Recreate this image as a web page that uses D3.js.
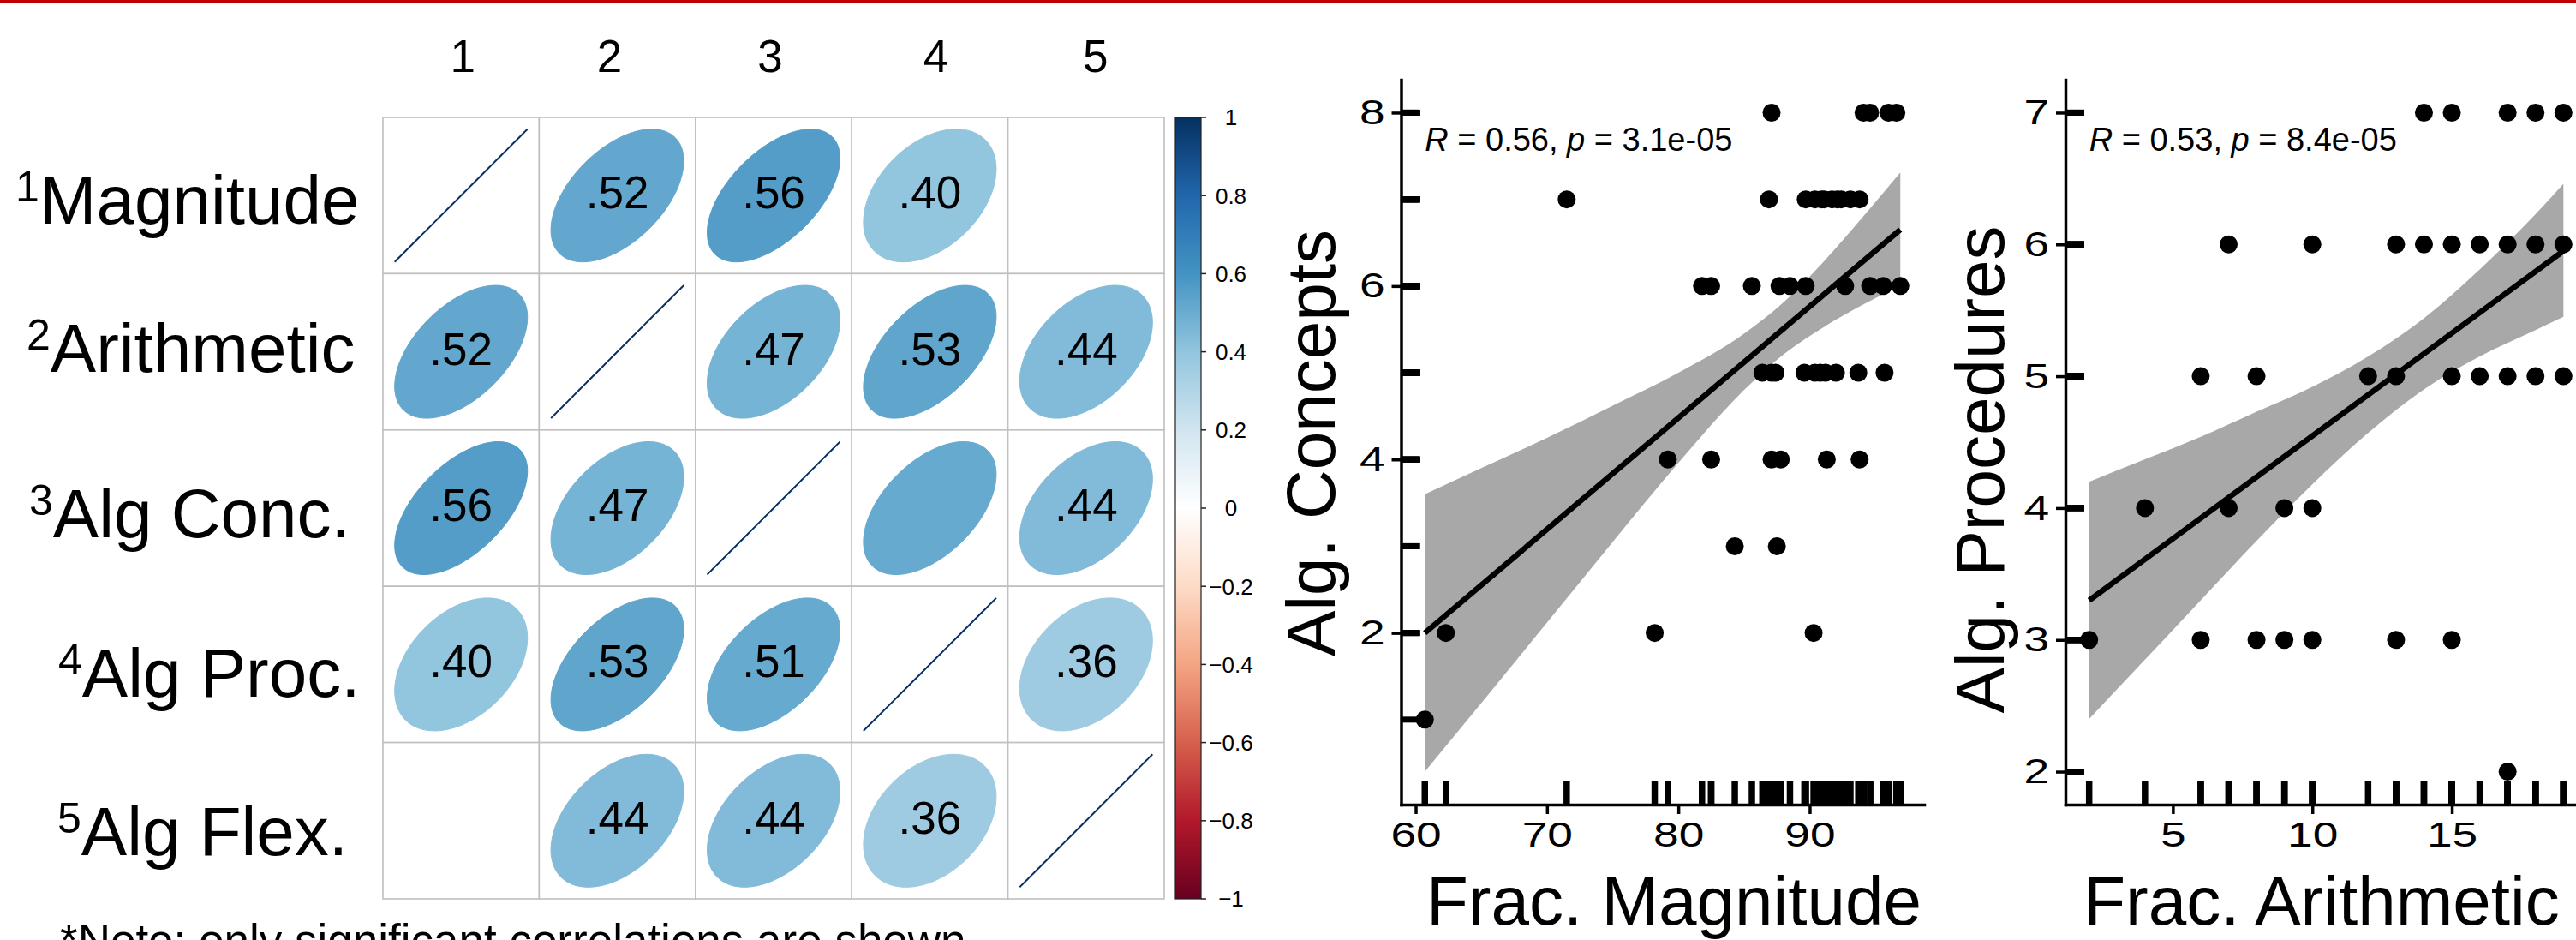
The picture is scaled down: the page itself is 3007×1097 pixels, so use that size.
<!DOCTYPE html>
<html lang="en">
<head>
<meta charset="UTF-8">
<title>Correlations and scatter plots</title>
<style>
  html, body { margin: 0; padding: 0; background: #fff; }
  svg { display: block; }
  text { font-family: "Liberation Sans", Arial, Helvetica, sans-serif; fill: #000; }
</style>
</head>
<body>
<div id="chart"></div>
<script src="https://cdn.jsdelivr.net/npm/d3@7"></script>
<script>
// ---- correlation matrix (left) ----
const measures = ["Magnitude", "Arithmetic", "Alg Conc.", "Alg Proc.", "Alg Flex."]
const colIds = ["1", "2", "3", "4", "5"]
// null = not significant, cell left blank
const corr = [
  [1, .52, .56, .40, null],
  [.52, 1, .47, .53, .44],
  [.56, .47, 1, .51, .44],
  [.40, .53, .51, 1, .36],
  [null, .44, .44, .36, 1]
]
// numbers printed in the cells ("" = none printed)
const corrText = [
  ["", ".52", ".56", ".40", ""],
  [".52", "", ".47", ".53", ".44"],
  [".56", ".47", "", "", ".44"],
  [".40", ".53", ".51", "", ".36"],
  ["", ".44", ".44", ".36", ""]
]
const legendTicks = [1, 0.8, 0.6, 0.4, 0.2, 0, -0.2, -0.4, -0.6, -0.8, -1]
const rdbu = ["#67001F", "#B2182B", "#D6604D", "#F4A582", "#FDDBC7", "#FFFFFF",
              "#D1E5F0", "#92C5DE", "#4393C3", "#2166AC", "#053061"]
const note = "*Note: only significant correlations are shown"

// ---- scatter 1: Frac. Magnitude vs Alg. Concepts ----
const magX = [87.1, 94.1, 94.6, 96.0, 96.6,
  71.5, 86.9, 89.7, 90.4, 90.9, 91.1, 91.7, 92.1, 92.4, 93.1, 93.8,
  81.8, 82.5, 85.6, 87.7, 88.5, 89.7, 92.7, 94.6, 95.6, 96.9,
  86.4, 87.1, 87.4, 89.6, 90.4, 90.8, 91.2, 92.0, 93.7, 95.7,
  79.2, 82.5, 87.1, 87.8, 91.3, 93.8,
  84.3, 87.5,
  62.3, 78.2, 90.3,
  60.7]
const conceptsY = [8, 8, 8, 8, 8,
  7, 7, 7, 7, 7, 7, 7, 7, 7, 7, 7,
  6, 6, 6, 6, 6, 6, 6, 6, 6, 6,
  5, 5, 5, 5, 5, 5, 5, 5, 5, 5,
  4, 4, 4, 4, 4, 4,
  3, 3,
  2, 2, 2,
  1]
const fit1X = [60.7, 96.9]
const fit1Y = [2.0, 6.65]
const band1X = [60.7, 65, 70, 75, 80, 85, 88, 91, 94, 96.9]
const band1Lo = [0.40, 1.19, 2.12, 3.05, 3.96, 4.80, 5.21, 5.52, 5.78, 6.00]
const band1Hi = [3.60, 3.90, 4.25, 4.62, 5.00, 5.45, 5.81, 6.27, 6.79, 7.31]
const ticks1X = [60, 70, 80, 90]
const ticks1Y = [2, 4, 6, 8]
const stat1 = ["0.56", "3.1e-05"]

// ---- scatter 2: Frac. Arithmetic vs Alg. Procedures ----
const arithX = [14, 15, 17, 18, 19,
  7, 10, 13, 14, 15, 16, 17, 18, 19,
  6, 8, 12, 13, 15, 16, 17, 18, 19,
  4, 7, 9, 10,
  2, 6, 8, 9, 10, 13, 15,
  17]
const proceduresY = [7, 7, 7, 7, 7,
  6, 6, 6, 6, 6, 6, 6, 6, 6,
  5, 5, 5, 5, 5, 5, 5, 5, 5,
  4, 4, 4, 4,
  3, 3, 3, 3, 3, 3, 3,
  2]
const fit2X = [2, 19]
const fit2Y = [3.30, 5.95]
const band2X = [2, 4, 6, 8, 10, 12, 14, 16, 18, 19]
const band2Lo = [2.40, 2.85, 3.30, 3.75, 4.18, 4.57, 4.90, 5.15, 5.35, 5.45]
const band2Hi = [4.20, 4.37, 4.54, 4.73, 4.92, 5.15, 5.44, 5.81, 6.23, 6.46]
const ticks2X = [5, 10, 15]
const ticks2Y = [2, 3, 4, 5, 6, 7]
const stat2 = ["0.53", "8.4e-05"]

const W = 3007, H = 1097
const svg = d3.select('#chart').append('svg')
  .attr('width', W).attr('height', H)
  .attr('viewBox', `0 0 ${W} ${H}`)

// red rule on top
svg.append('rect').attr('x', 0).attr('y', 0).attr('width', W).attr('height', 4).attr('fill', '#c00000')

// ===== corrplot =====
const cell = 182.4
const gx = d3.scaleBand().domain(d3.range(5)).range([447, 447 + 5 * cell])
const gy = d3.scaleBand().domain(d3.range(5)).range([137, 137 + 5 * cell])
const corrColor = d3.scaleLinear()
  .domain(rdbu.map((_, i) => -1 + i * 0.2))
  .range(rdbu)
  .interpolate(d3.interpolateRgb)

const cells = []
corr.forEach((row, i) => row.forEach((r, j) => cells.push({ i, j, r, label: corrText[i][j] })))

const gCorr = svg.append('g')
gCorr.selectAll('rect.cell')
  .data(cells)
  .enter()
  .append('rect')
  .attr('class', 'cell')
  .attr('x', d => gx(d.j))
  .attr('y', d => gy(d.i))
  .attr('width', gx.bandwidth())
  .attr('height', gy.bandwidth())
  .attr('fill', '#fff')
  .attr('stroke', '#c0c0c0')
  .attr('stroke-width', 1.6)

// corrplot ellipse shape for a correlation r (cell units)
function ellipsePts(r) {
  const d = Math.acos(Math.min(1, r))
  return d3.range(100).map(n => {
    const k = n / 99 * 2 * Math.PI
    return [0.85 * Math.cos(k + d / 2) / 2, 0.85 * Math.cos(k - d / 2) / 2]
  })
}

gCorr.selectAll('path.ell')
  .data(cells.filter(d => d.r !== null))
  .enter()
  .append('path')
  .attr('class', 'ell')
  .attr('d', d => {
    const cx = gx(d.j) + cell / 2
    const cy = gy(d.i) + cell / 2
    return d3.line()(ellipsePts(d.r).map(p => [cx + p[0] * cell, cy - p[1] * cell])) + 'Z'
  })
  .attr('fill', d => d.r >= 1 ? 'none' : corrColor(d.r))
  .attr('stroke', d => corrColor(d.r))
  .attr('stroke-width', d => d.r >= 1 ? 2 : 1)

gCorr.selectAll('text.val')
  .data(cells.filter(d => d.label))
  .enter()
  .append('text')
  .attr('class', 'val')
  .attr('x', d => gx(d.j) + cell / 2)
  .attr('y', d => gy(d.i) + cell / 2 + 15)
  .attr('text-anchor', 'middle')
  .attr('font-size', 53)
  .text(d => d.label)

// column numbers
const colNudge = [2, -9, -4, 7, 11]
gCorr.selectAll('text.col')
  .data(colIds)
  .enter()
  .append('text')
  .attr('class', 'col')
  .attr('x', (d, j) => gx(j) + cell / 2 + colNudge[j])
  .attr('y', 84)
  .attr('text-anchor', 'middle')
  .attr('font-size', 53)
  .text(d => d)

// row labels with superscript index
const rowLabelX = [18, 31, 34, 68, 67]
const rowBaseline = [261, 434, 627, 813, 998]
const rowText = gCorr.selectAll('text.row')
  .data(measures)
  .enter()
  .append('text')
  .attr('class', 'row')
  .attr('x', (d, i) => rowLabelX[i])
  .attr('y', (d, i) => rowBaseline[i])
rowText.append('tspan')
  .attr('font-size', 50)
  .attr('dy', -26)
  .text((d, i) => colIds[i])
rowText.append('tspan')
  .attr('font-size', 80)
  .attr('dy', 26)
  .text(d => d)

// colour legend
const cb = d3.scaleLinear().domain([-1, 1]).range([137 + 5 * cell, 137])
const grad = svg.append('defs').append('linearGradient')
  .attr('id', 'cbgrad')
  .attr('x1', 0).attr('y1', 1).attr('x2', 0).attr('y2', 0)
grad.selectAll('stop')
  .data(rdbu)
  .enter()
  .append('stop')
  .attr('offset', (_, i) => i / (rdbu.length - 1))
  .attr('stop-color', d => d)
const cbX = 1372, cbW = 30
svg.append('rect')
  .attr('x', cbX).attr('y', cb(1))
  .attr('width', cbW).attr('height', cb(-1) - cb(1))
  .attr('fill', 'url(#cbgrad)')
  .attr('stroke', '#222').attr('stroke-width', 1.2)
const gLeg = svg.append('g')
gLeg.selectAll('line')
  .data(legendTicks)
  .enter()
  .append('line')
  .attr('x1', cbX + cbW).attr('x2', cbX + cbW + 6)
  .attr('y1', d => cb(d)).attr('y2', d => cb(d))
  .attr('stroke', '#222').attr('stroke-width', 1.5)
gLeg.selectAll('text')
  .data(legendTicks)
  .enter()
  .append('text')
  .attr('x', 1437)
  .attr('y', d => cb(d))
  .attr('dy', '0.36em')
  .attr('text-anchor', 'middle')
  .attr('font-size', 26)
  .text(d => d3.format('')(d))

// footnote, cut by the bottom edge as in the source figure
svg.append('text')
  .attr('x', 70).attr('y', 1116)
  .attr('font-size', 53)
  .text(note)

// ===== scatter plots =====
function expand(ext) {
  const pad = (ext[1] - ext[0]) * 0.05
  return [ext[0] - pad, ext[1] + pad]
}

const tickStretch = 1.3

function scatter(opt) {
  const g = svg.append('g')
  const xs = d3.scaleLinear().domain(expand(d3.extent(opt.x))).range(opt.xr)
  const yExt = d3.extent(opt.y.concat(opt.bandLo, opt.bandHi))
  const ys = d3.scaleLinear().domain(expand(yExt)).range([939, 93])

  const band = opt.bandX.map((x, i) => ({ x, lo: opt.bandLo[i], hi: opt.bandHi[i] }))
  g.append('path')
    .datum(band)
    .attr('d', d3.area().x(d => xs(d.x)).y0(d => ys(d.lo)).y1(d => ys(d.hi)).curve(d3.curveMonotoneX))
    .attr('fill', '#a8a8a8')

  g.append('path')
    .datum(opt.fitX.map((x, i) => [x, opt.fitY[i]]))
    .attr('d', d3.line().x(d => xs(d[0])).y(d => ys(d[1])))
    .attr('stroke', '#000').attr('stroke-width', 6.5).attr('fill', 'none')

  // rugs
  const x0 = opt.xr[0]
  g.selectAll('line.rx')
    .data(opt.x)
    .enter()
    .append('line')
    .attr('x1', d => xs(d)).attr('x2', d => xs(d))
    .attr('y1', 939).attr('y2', 911)
    .attr('stroke', '#000').attr('stroke-width', 7.5)
  g.selectAll('line.ry')
    .data(opt.y)
    .enter()
    .append('line')
    .attr('y1', d => ys(d)).attr('y2', d => ys(d))
    .attr('x1', x0).attr('x2', x0 + 22)
    .attr('stroke', '#000').attr('stroke-width', 7)

  g.selectAll('circle')
    .data(opt.x.map((x, i) => [x, opt.y[i]]))
    .enter()
    .append('circle')
    .attr('cx', d => xs(d[0]))
    .attr('cy', d => ys(d[1]))
    .attr('r', 10.5)
    .attr('fill', '#000')

  const ax = g.append('g')
    .attr('transform', 'translate(0,939)')
    .call(d3.axisBottom(xs).tickValues(opt.xt).tickSize(11).tickSizeOuter(0).tickPadding(9))
  const ay = g.append('g')
    .attr('transform', `translate(${x0},0)`)
    .call(d3.axisLeft(ys).tickValues(opt.yt).tickSize(11).tickSizeOuter(0).tickPadding(8).tickFormat(d3.format('d')))
  ;[ax, ay].forEach(a => {
    a.select('.domain').attr('stroke', '#000').attr('stroke-width', 3.5).attr('stroke-linecap', 'square')
    a.selectAll('.tick line').attr('stroke', '#000').attr('stroke-width', 3.5)
    a.selectAll('.tick text')
      .attr('fill', '#000')
      .attr('font-size', 41)
      .attr('font-family', '"Liberation Sans", Arial, sans-serif')
  })
  // tick labels of the source are drawn horizontally stretched
  ax.selectAll('.tick text').attr('transform', `scale(${tickStretch},1)`)
  ay.selectAll('.tick text')
    .attr('x', -19 / tickStretch)
    .attr('transform', `scale(${tickStretch},1)`)

  // stat label
  const st = g.append('text')
    .attr('x', xs(d3.min(opt.x)))
    .attr('y', ys(d3.max(opt.y)) + 45)
    .attr('font-size', 38)
  st.append('tspan').attr('font-style', 'italic').text('R')
  st.append('tspan').text(` = ${opt.stat[0]}, `)
  st.append('tspan').attr('font-style', 'italic').text('p')
  st.append('tspan').text(` = ${opt.stat[1]}`)

  g.append('text')
    .attr('transform', `translate(${opt.ylabX},${opt.ylabY}) rotate(-90)`)
    .attr('text-anchor', 'middle')
    .attr('font-size', 80)
    .text(opt.ylab)
  g.append('text')
    .attr('x', opt.xlabX).attr('y', 1079)
    .attr('text-anchor', 'middle')
    .attr('font-size', 80)
    .text(opt.xlab)
}

scatter({
  x: magX, y: conceptsY,
  fitX: fit1X, fitY: fit1Y,
  bandX: band1X, bandLo: band1Lo, bandHi: band1Hi,
  xt: ticks1X, yt: ticks1Y, stat: stat1,
  xr: [1635.5, 2246],
  ylab: 'Alg. Concepts', ylabX: 1558, ylabY: 517,
  xlab: 'Frac. Magnitude', xlabX: 1954
})

scatter({
  x: arithX, y: proceduresY,
  fitX: fit2X, fitY: fit2Y,
  bandX: band2X, bandLo: band2Lo, bandHi: band2Hi,
  xt: ticks2X, yt: ticks2Y, stat: stat2,
  xr: [2411, 3020],
  ylab: 'Alg. Procedures', ylabX: 2339, ylabY: 548,
  xlab: 'Frac. Arithmetic', xlabX: 2710
})
</script>
</body>
</html>
